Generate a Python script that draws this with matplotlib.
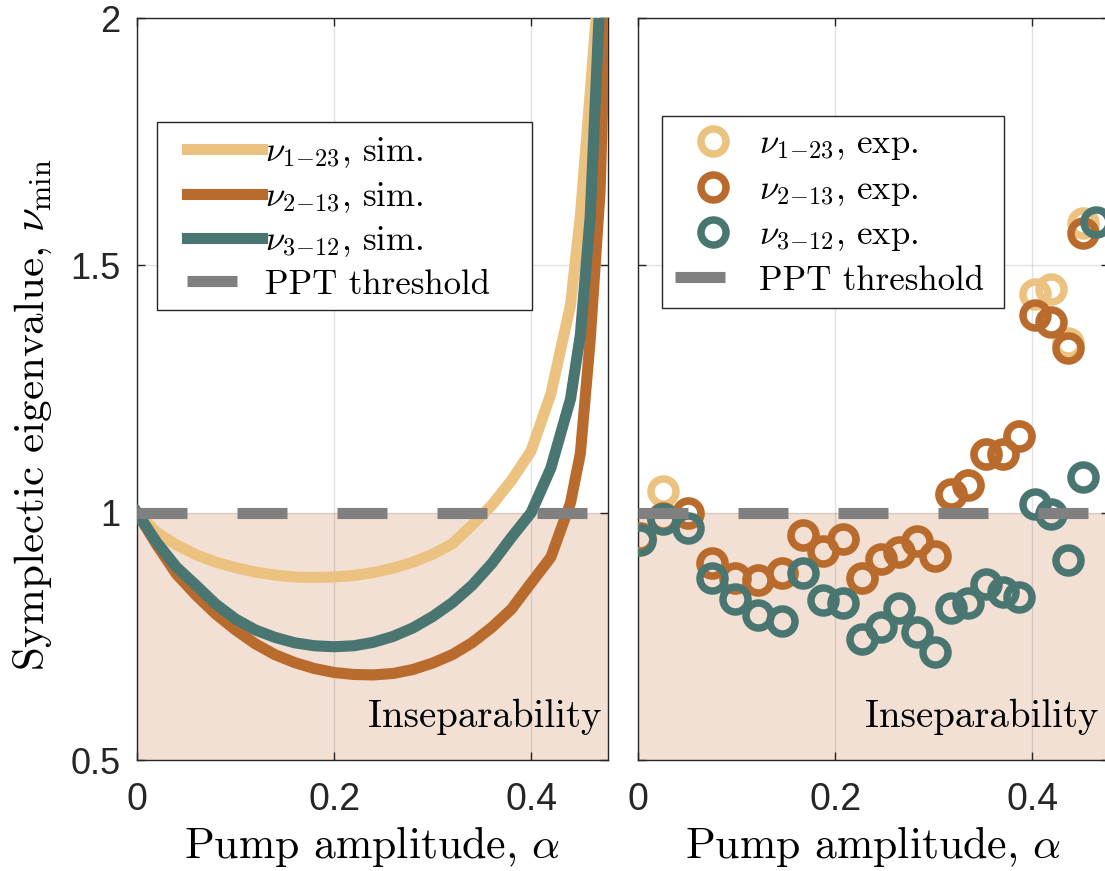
import numpy as np
import matplotlib
matplotlib.use("Agg")
import matplotlib.pyplot as plt
from matplotlib.patches import Rectangle

plt.rcParams['font.family'] = ['Liberation Sans', 'DejaVu Sans']
plt.rcParams['mathtext.fontset'] = 'cm'
serif = 'cmr10'  # computer modern shipped with matplotlib

# simulated minimum symplectic eigenvalues vs pump amplitude
alpha_sim = [0, 0.02, 0.04, 0.06, 0.08, 0.10, 0.12, 0.14, 0.16, 0.18, 0.20, 0.22, 0.24,
             0.26, 0.28, 0.30, 0.32, 0.34, 0.36, 0.38, 0.40, 0.42, 0.44, 0.45, 0.46, 0.47]
nu1_sim = [1.0, 0.960, 0.935, 0.915, 0.900, 0.889, 0.880, 0.874, 0.870, 0.869, 0.870, 0.873, 0.879,
           0.888, 0.900, 0.916, 0.937, 0.975, 1.015, 1.065, 1.125, 1.240, 1.420, 1.600, 1.850, 2.100]
nu2_sim = [1.0, 0.935, 0.876, 0.833, 0.795, 0.763, 0.735, 0.713, 0.697, 0.685, 0.677, 0.673, 0.672,
           0.675, 0.683, 0.696, 0.713, 0.737, 0.768, 0.805, 0.858, 0.910, 1.020, 1.120, 1.350, 1.650]
nu3_sim = [1.0, 0.940, 0.890, 0.853, 0.815, 0.785, 0.763, 0.748, 0.737, 0.731, 0.729, 0.731, 0.738,
           0.750, 0.767, 0.790, 0.818, 0.853, 0.897, 0.950, 1.000, 1.090, 1.230, 1.360, 1.600, 2.050]
# brown curve reaches the top a bit later
alpha_sim2_tail = [0.476]
nu2_sim_tail = [2.05]

# measured values
alpha_exp = [0.002, 0.025, 0.051, 0.075, 0.098, 0.122, 0.146, 0.167, 0.188, 0.208, 0.227, 0.247, 0.265,
             0.283, 0.301, 0.318, 0.335, 0.353, 0.370, 0.387, 0.403, 0.419, 0.436, 0.452, 0.465]
nu1_exp = [0.948, 1.043, 1.000, 0.899, 0.869, 0.864, 0.879, 0.955, 0.923, 0.947, 0.868, 0.907, 0.921,
           0.943, 0.913, 1.038, 1.057, 1.119, 1.119, 1.156, 1.443, 1.453, 1.344, 1.585, np.nan]
nu2_exp = [0.948, 0.990, 1.000, 0.899, 0.869, 0.864, 0.879, 0.955, 0.923, 0.947, 0.868, 0.907, 0.921,
           0.943, 0.913, 1.038, 1.057, 1.119, 1.119, 1.156, 1.399, 1.385, 1.332, 1.565, np.nan]
nu3_exp = [0.945, 0.988, 0.970, 0.868, 0.826, 0.793, 0.781, 0.878, 0.824, 0.818, 0.745, 0.769, 0.808,
           0.759, 0.719, 0.808, 0.818, 0.856, 0.840, 0.830, 1.018, 0.998, 0.905, 1.073, 1.587]

ppt = 1.0
xlim = (0, 0.478)
ylim = (0.5, 2.0)
xticks = [0, 0.2, 0.4]
xticklabels = ['0', '0.2', '0.4']
yticks = [0.5, 1, 1.5, 2]
yticklabels = ['0.5', '1', '1.5', '2']

c1 = '#ECC280'
c2 = '#B96B2E'
c3 = '#4A7672'
cppt = '#808080'
cfill = '#F2E0D5'
cdark = '#262626'
lw = 8

fig = plt.figure(figsize=(11.05, 8.71), dpi=100)
axL = fig.add_axes([0.124, 0.1274, 0.4262, 0.8519])
axR = fig.add_axes([0.5774, 0.1274, 0.4262, 0.8519])


def style(ax):
    ax.set_xlim(*xlim)
    ax.set_ylim(*ylim)
    ax.fill_between(xlim, ylim[0], ppt, color=cfill, lw=0, zorder=0.2)
    ax.set_xticks(xticks)
    ax.set_xticklabels(xticklabels)
    ax.set_yticks(yticks)
    ax.set_yticklabels(yticklabels)
    ax.grid(True, color=cdark, alpha=0.13, lw=1)
    ax.set_axisbelow(True)
    ax.tick_params(direction='in', length=6, width=1, top=True, right=True,
                   color=cdark, labelcolor=cdark)
    ax.tick_params(axis='x', labelsize=27, pad=16)
    ax.tick_params(axis='y', labelsize=26, pad=12)
    for s in ax.spines.values():
        s.set_color(cdark)
        s.set_linewidth(1)
    ax.set_xlabel(r'Pump amplitude, $\alpha$', fontsize=31.5, family=serif, labelpad=4)


style(axL)
style(axR)

# left panel: simulation
axL.plot(alpha_sim, nu1_sim, color=c1, lw=lw, label=r'$\nu_{1\!-\!23}$, sim.', zorder=3)
axL.plot(alpha_sim + alpha_sim2_tail, nu2_sim + nu2_sim_tail, color=c2, lw=lw,
         label=r'$\nu_{2\!-\!13}$, sim.', zorder=3)
axL.plot(alpha_sim, nu3_sim, color=c3, lw=lw, label=r'$\nu_{3\!-\!12}$, sim.', zorder=3)
axL.plot(xlim, [ppt, ppt], color=cppt, lw=lw, ls=(0, (4.5, 4.5)), label='PPT threshold', zorder=4)
axL.set_ylabel(r'Symplectic eigenvalue, $\nu_{\mathrm{min}}$', fontsize=31, family=serif)
axL.yaxis.set_label_coords(-0.176, 0.465)
axR.set_yticklabels([])

# right panel: experiment
mk = dict(ls='none', marker='o', ms=18, mew=5.4, mfc='none', zorder=3)
axR.plot(alpha_exp, nu1_exp, mec=c1, label=r'$\nu_{1\!-\!23}$, exp.', **mk)
axR.plot(alpha_exp, nu2_exp, mec=c2, label=r'$\nu_{2\!-\!13}$, exp.', **mk)
axR.plot(alpha_exp, nu3_exp, mec=c3, label=r'$\nu_{3\!-\!12}$, exp.', **mk)
axR.plot(xlim, [ppt, ppt], color=cppt, lw=lw, ls=(0, (4.5, 4.5)), label='PPT threshold', zorder=4)

# text in shaded region
axL.text(0.987, 0.0445, 'Inseparability', transform=axL.transAxes, family=serif,
         ha='right', va='baseline', fontsize=28, zorder=5)
axR.text(0.977, 0.0445, 'Inseparability', transform=axR.transAxes, family=serif,
         ha='right', va='baseline', fontsize=28, zorder=5)

# legends: frame drawn separately so box and entries can be placed independently
leg_font = {'family': serif, 'size': 25}
axL.add_patch(Rectangle((0.0425, 0.6065), 0.7961, 0.2535, transform=axL.transAxes,
                        facecolor='white', edgecolor=cdark, lw=1, zorder=6))
axL.legend(loc='upper left', bbox_to_anchor=(0.106, 0.842), frameon=False, prop=leg_font,
           borderpad=0, borderaxespad=0, handlelength=2.16, handletextpad=0.1,
           labelspacing=0.28).set_zorder(7)

axR.add_patch(Rectangle((0.051, 0.609), 0.726, 0.259, transform=axR.transAxes,
                        facecolor='white', edgecolor=cdark, lw=1, zorder=6))
axR.legend(loc='upper left', bbox_to_anchor=(0.0786, 0.851), frameon=False, prop=leg_font,
           borderpad=0, borderaxespad=0, handlelength=2.16, handletextpad=0.25,
           labelspacing=0.34).set_zorder(7)

fig.savefig('out.png', dpi=100)
